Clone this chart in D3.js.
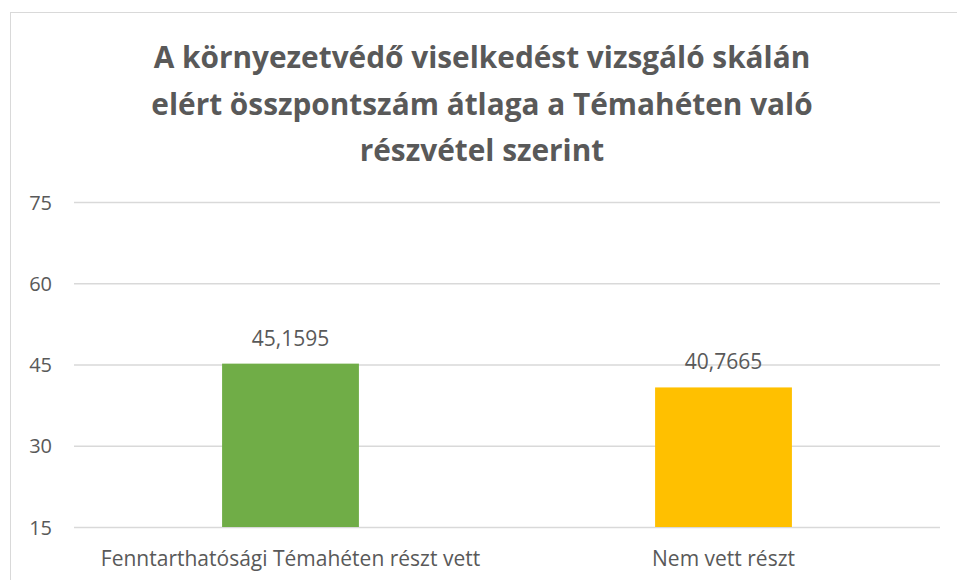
<!DOCTYPE html>
<html><head><meta charset="utf-8">
<script src="https://cdn.jsdelivr.net/npm/d3@7"></script>
<style>html,body{margin:0;padding:0;background:#fff;overflow:hidden}</style>
</head><body>
<script>
const categories = ["Fenntarthatósági Témahéten részt vett", "Nem vett részt"];
const values = [45.1595, 40.7665];
const valueLabels = ["45,1595", "40,7665"];
const colors = ["#70AD47", "#FFC000"];
const yTicks = [15, 30, 45, 60, 75];
const titleLines = ["A környezetvédő viselkedést vizsgáló skálán", "elért összpontszám átlaga a Témahéten való", "részvétel szerint"];

const W = 957, H = 580;
const font = "'Open Sans', sans-serif";
const textColor = "#595959";
const svg = d3.select("body").append("svg").attr("width", W).attr("height", H);

svg.append("rect").attr("x", 10.5).attr("y", 12.5).attr("width", 960).attr("height", 600)
  .attr("fill", "#fff").attr("stroke", "#d9d9d9").attr("stroke-width", 1);

const x = d3.scaleBand().domain(categories).range([74, 940]).paddingInner(0.684).paddingOuter(0.342);
const y = d3.scaleLinear().domain([15, 75]).range([527, 202]);

const title = svg.append("text").attr("text-anchor", "middle").attr("font-family", font)
  .attr("font-weight", "bold").attr("font-size", 29.8).attr("fill", textColor);
titleLines.forEach((t, i) => title.append("tspan").attr("x", 482).attr("y", 68 + i * 46.5).text(t));

const yAxis = d3.axisLeft(y).tickValues(yTicks).tickSize(-(940 - 74)).tickPadding(22);
const gy = svg.append("g").attr("transform", "translate(74,0)").call(yAxis);
gy.select(".domain").remove();
gy.selectAll(".tick line").attr("stroke", "#d9d9d9").attr("stroke-width", 1.3);
gy.selectAll(".tick text").attr("font-family", font).attr("font-size", 20).attr("fill", textColor)
  .attr("dy", "0.36em");

svg.append("g").selectAll("rect").data(values).join("rect")
  .attr("x", (d, i) => x(categories[i]))
  .attr("width", x.bandwidth())
  .attr("y", d => y(d))
  .attr("height", d => y(15) - y(d))
  .attr("fill", (d, i) => colors[i]);

svg.append("g").selectAll("text").data(values).join("text")
  .attr("x", (d, i) => x(categories[i]) + x.bandwidth() / 2)
  .attr("y", d => y(d) - 18)
  .attr("text-anchor", "middle").attr("font-family", font).attr("font-size", 21).attr("fill", textColor)
  .text((d, i) => valueLabels[i]);

const xAxis = d3.axisBottom(x).tickSize(0).tickPadding(24);
const gx = svg.append("g").attr("transform", `translate(0,${y(15)})`).call(xAxis);
gx.select(".domain").remove();
gx.selectAll(".tick text").attr("font-family", font).attr("font-size", 21).attr("fill", textColor);
</script>
</body></html>
